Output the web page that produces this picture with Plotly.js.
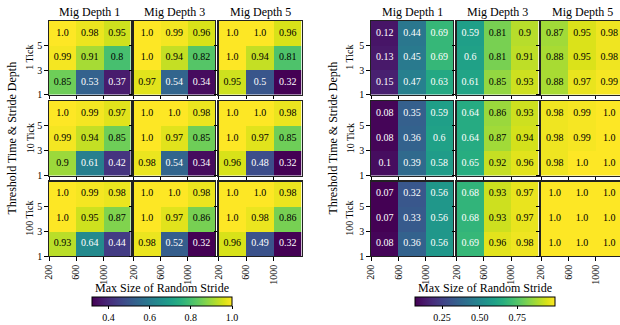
<!DOCTYPE html>
<html>
<head>
<meta charset="utf-8">
<script src="https://cdn.plot.ly/plotly-3.0.1.min.js"></script>
<style>html,body{margin:0;padding:0;background:#fff;}#chart{width:620px;height:325px;}</style>
</head>
<body>
<div id="chart"></div>
<script>
// ---- data ----
const strides = [200, 600, 1000];          // Max Size of Random Stride
const depths = [1, 3, 5];                  // Stride depth
const tickLabels = ['1 Tick', '10 Tick', '100 Tick'];
const migLabels = ['Mig Depth 1', 'Mig Depth 3', 'Mig Depth 5'];
const xTitle = 'Max Size of Random Stride';
const yTitle = 'Threshold Time & Stride Depth';
const leftCbTicks = [0.4, 0.6, 0.8, 1.0];
const rightCbTicks = [0.25, 0.5, 0.75];

// each matrix: rows = depth 1, 3, 5 ; columns = stride 200, 600, 1000
// left group
const leftTick1 = [
  [[0.85, 0.53, 0.37], [0.99, 0.91, 0.8], [1.0, 0.98, 0.95]],
  [[0.97, 0.54, 0.34], [1.0, 0.94, 0.82], [1.0, 0.99, 0.96]],
  [[0.95, 0.5, 0.32], [1.0, 0.94, 0.81], [1.0, 1.0, 0.96]]
];
const leftTick10 = [
  [[0.9, 0.61, 0.42], [0.99, 0.94, 0.85], [1.0, 0.99, 0.97]],
  [[0.98, 0.54, 0.34], [1.0, 0.97, 0.85], [1.0, 1.0, 0.98]],
  [[0.96, 0.48, 0.32], [1.0, 0.97, 0.85], [1.0, 1.0, 0.98]]
];
const leftTick100 = [
  [[0.93, 0.64, 0.44], [1.0, 0.95, 0.87], [1.0, 0.99, 0.98]],
  [[0.98, 0.52, 0.32], [1.0, 0.97, 0.86], [1.0, 1.0, 0.98]],
  [[0.96, 0.49, 0.32], [1.0, 0.98, 0.86], [1.0, 1.0, 0.98]]
];
// right group
const rightTick1 = [
  [[0.15, 0.47, 0.63], [0.13, 0.45, 0.69], [0.12, 0.44, 0.69]],
  [[0.61, 0.85, 0.93], [0.6, 0.81, 0.91], [0.59, 0.81, 0.9]],
  [[0.88, 0.97, 0.99], [0.88, 0.95, 0.98], [0.87, 0.95, 0.98]]
];
const rightTick10 = [
  [[0.1, 0.39, 0.58], [0.08, 0.36, 0.6], [0.08, 0.35, 0.59]],
  [[0.65, 0.92, 0.96], [0.64, 0.87, 0.94], [0.64, 0.86, 0.93]],
  [[0.98, 1.0, 1.0], [0.98, 0.99, 1.0], [0.98, 0.99, 1.0]]
];
const rightTick100 = [
  [[0.08, 0.36, 0.56], [0.07, 0.33, 0.56], [0.07, 0.32, 0.56]],
  [[0.69, 0.96, 0.98], [0.68, 0.93, 0.97], [0.68, 0.93, 0.97]],
  [[1.0, 1.0, 1.0], [1.0, 1.0, 1.0], [1.0, 1.0, 1.0]]
];

// ---- layout geometry (pixels) ----
const W = 620, H = 325;
const FONT = 'Liberation Serif, Times New Roman, serif';
const rowsPx = [[21, 94.5], [101, 175.5], [181.5, 256]];
const groups = [
  { data: [leftTick1, leftTick10, leftTick100], cols: [[49, 130.5], [133.5, 215], [218.5, 301.5]],
    fullRight: 301.5, ca: 'coloraxis', ytitleX: 12, rowLabX: 30, cbCenter: 162, cbLen: 139.5, fmt: '.1f', cbTicks: leftCbTicks },
  { data: [rightTick1, rightTick10, rightTick100], cols: [[371, 453], [456.5, 538.5], [541, 620]],
    fullRight: 623, ca: 'coloraxis2', ytitleX: 333, rowLabX: 350, cbCenter: 485, cbLen: 140, fmt: '.2f', cbTicks: rightCbTicks }
];
const xEdges = strides.concat([strides[2] + (strides[1] - strides[0])]);
const yEdges = depths.concat([depths[2] + (depths[1] - depths[0])]);
const xCenters = strides.map((s, i) => (xEdges[i] + xEdges[i + 1]) / 2);
const yCenters = depths.map((d, i) => (yEdges[i] + yEdges[i + 1]) / 2);

function fmtVal(v) { return Number.isInteger(v) ? v.toFixed(1) : String(v); }

const traces = [];
const layout = {
  width: W, height: H,
  margin: { l: 0, r: 0, t: 0, b: 0 },
  paper_bgcolor: '#fff', plot_bgcolor: '#fff',
  font: { family: FONT, size: 10, color: '#000' },
  showlegend: false,
  annotations: []
};

let k = 0;
groups.forEach((g, gi) => {
  const all = g.data.flat(3);
  const zmin = Math.min(...all), zmax = Math.max(...all);
  layout[g.ca] = {
    colorscale: 'Viridis', cmin: zmin, cmax: zmax,
    colorbar: {
      orientation: 'h', x: g.cbCenter / W, xanchor: 'center', len: g.cbLen / W, lenmode: 'fraction',
      y: 1 - 296.5 / H, yanchor: 'top', thickness: 9, xpad: 0, ypad: 0,
      outlinewidth: 1, outlinecolor: '#000',
      tickmode: 'array', tickvals: g.cbTicks, ticktext: g.cbTicks.map(v => v.toFixed(g.fmt === '.1f' ? 1 : 2)),
      ticks: 'outside', ticklen: 3, tickcolor: '#000',
      tickfont: { family: FONT, size: 10, color: '#000' }
    }
  };
  g.data.forEach((rowData, r) => {
    g.cols.forEach((colPx, c) => {
      k++;
      const xa = 'x' + (k === 1 ? '' : k), ya = 'y' + (k === 1 ? '' : k);
      const xKey = 'xaxis' + (k === 1 ? '' : k), yKey = 'yaxis' + (k === 1 ? '' : k);
      const z = rowData[c];
      const norm = v => (v - zmin) / (zmax - zmin);
      traces.push({
        type: 'heatmap', x: xEdges, y: yEdges, z: z, coloraxis: g.ca,
        xaxis: xa, yaxis: ya, hoverinfo: 'skip', zsmooth: false
      });
      const tx = [], ty = [], tt = [], tc = [];
      depths.forEach((d, i) => strides.forEach((s, j) => {
        tx.push(xCenters[j]); ty.push(yCenters[i]); tt.push(fmtVal(z[i][j]));
        tc.push(norm(z[i][j]) > 0.685 ? '#000' : '#fff');
      }));
      traces.push({
        type: 'scatter', mode: 'text', x: tx, y: ty, text: tt,
        textfont: { family: FONT, size: 10, color: tc }, textposition: 'middle center',
        xaxis: xa, yaxis: ya, hoverinfo: 'skip', cliponaxis: true
      });
      const cut = colPx[1] >= W;
      const fullW = (cut ? g.fullRight : colPx[1]) - colPx[0];
      const xMax = cut ? xEdges[0] + (xEdges[3] - xEdges[0]) * (colPx[1] - colPx[0]) / fullW : xEdges[3];
      layout[xKey] = {
        domain: [colPx[0] / W, colPx[1] / W], anchor: ya, range: [xEdges[0], xMax],
        tickmode: 'array', tickvals: strides, ticktext: strides.map(String),
        showticklabels: r === 2, tickangle: -90,
        ticks: 'outside', ticklen: 3.5, tickwidth: 1, tickcolor: '#000',
        showline: true, mirror: true, linecolor: '#222', linewidth: 1.2,
        showgrid: false, zeroline: false, fixedrange: true,
        tickfont: { family: FONT, size: 10, color: '#000' }
      };
      layout[yKey] = {
        domain: [1 - rowsPx[r][1] / H, 1 - rowsPx[r][0] / H], anchor: xa, range: [yEdges[0], yEdges[3]],
        tickmode: 'array', tickvals: depths, ticktext: depths.map(String),
        showticklabels: c === 0,
        ticks: 'outside', ticklen: 3.5, tickwidth: 1, tickcolor: '#000',
        showline: true, mirror: !cut, linecolor: '#222', linewidth: 1.2,
        showgrid: false, zeroline: false, fixedrange: true,
        tickfont: { family: FONT, size: 10, color: '#000' }
      };
      if (r === 0) {
        const right = cut ? g.fullRight : colPx[1];
        layout.annotations.push({
          text: migLabels[c], xref: 'paper', yref: 'paper', x: (colPx[0] + right) / 2 / W, y: 1 - 12 / H,
          xanchor: 'center', yanchor: 'middle', showarrow: false, font: { family: FONT, size: 12, color: '#000' }
        });
      }
    });
    layout.annotations.push({
      text: tickLabels[r], xref: 'paper', yref: 'paper', x: g.rowLabX / W, y: 1 - (rowsPx[r][0] + rowsPx[r][1]) / 2 / H,
      xanchor: 'center', yanchor: 'middle', textangle: -90, showarrow: false, font: { family: FONT, size: 10, color: '#000' }
    });
  });
  layout.annotations.push({
    text: yTitle, xref: 'paper', yref: 'paper', x: g.ytitleX / W, y: 1 - (rowsPx[0][0] + rowsPx[2][1]) / 2 / H,
    xanchor: 'center', yanchor: 'middle', textangle: -90, showarrow: false, font: { family: FONT, size: 12, color: '#000' }
  });
  layout.annotations.push({
    text: xTitle, xref: 'paper', yref: 'paper', x: g.cbCenter / W, y: 1 - 288 / H,
    xanchor: 'center', yanchor: 'middle', showarrow: false, font: { family: FONT, size: 12, color: '#000' }
  });
});

Plotly.newPlot('chart', traces, layout, { displayModeBar: false, staticPlot: true });
</script>
</body>
</html>
